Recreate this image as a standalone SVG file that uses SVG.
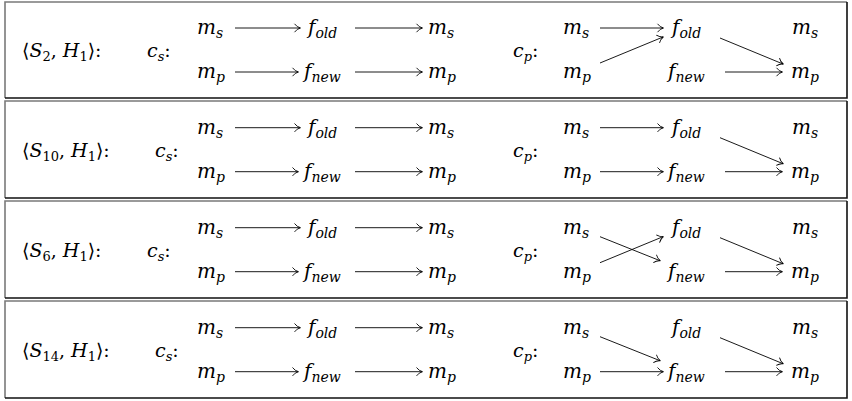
<svg xmlns="http://www.w3.org/2000/svg" width="852" height="401" viewBox="0 0 852 401">
<style>
text{font-family:"DejaVu Serif","Liberation Serif",serif;font-size:19px;fill:#000}
.n text{font-size:20px}
.i{font-style:italic}
.sub{font-size:13px}
.n .sub{font-size:14px}
.bl{stroke:#7a7a7a;stroke-width:1.6;fill:none}
.bd{stroke:#111;stroke-width:1.6;fill:none}
.c line{stroke:#000;stroke-width:0.9;marker-end:url(#ah)}
</style>
<defs>
<marker id="ah" markerWidth="10" markerHeight="10" refX="7" refY="5" orient="auto" markerUnits="userSpaceOnUse">
<path d="M1.5,0.8 Q4,4.2 7.5,5 Q4,5.8 1.5,9.2" fill="none" stroke="#000" stroke-width="0.9"/>
</marker>
</defs>
<g id="frames">
<path class="bl" d="M5,98 V2 H847"/><path class="bd" d="M5,98 H847 V2"/>
<path class="bl" d="M5,198 V101 H847"/><path class="bd" d="M5,198 H847 V101"/>
<path class="bl" d="M5,298 V201 H847"/><path class="bd" d="M5,298 H847 V201"/>
<path class="bl" d="M5,398 V301 H847"/><path class="bd" d="M5,398 H847 V301"/>
</g>
<g id="row1" transform="translate(0,0)">
<text x="22" y="57">⟨<tspan class="i">S</tspan><tspan class="sub" dy="4">2</tspan><tspan dy="-4">, </tspan><tspan class="i">H</tspan><tspan class="sub" dy="4">1</tspan><tspan dy="-4">⟩:</tspan></text>
<text x="147" y="57" class="i">c<tspan class="sub" dy="4">s</tspan><tspan dy="-4" font-style="normal">:</tspan></text>
<g id="r1-cs-ms1" class="n"><text x="197" y="34" class="i">m<tspan class="sub" dy="4">s</tspan></text></g>
<g id="r1-cs-mp1" class="n"><text x="197" y="78" class="i">m<tspan class="sub" dy="4">p</tspan></text></g>
<g id="r1-cs-fold" class="n"><text x="308" y="34" class="i">f<tspan class="sub" dy="4">old</tspan></text></g>
<g id="r1-cs-fnew" class="n"><text x="304" y="78" class="i">f<tspan class="sub" dy="4">new</tspan></text></g>
<g id="r1-cs-ms2" class="n"><text x="428" y="34" class="i">m<tspan class="sub" dy="4">s</tspan></text></g>
<g id="r1-cs-mp2" class="n"><text x="428" y="78" class="i">m<tspan class="sub" dy="4">p</tspan></text></g>
<text x="513" y="57" class="i">c<tspan class="sub" dy="4">p</tspan><tspan dy="-4" font-style="normal">:</tspan></text>
<g id="r1-cp-ms1" class="n"><text x="563" y="34" class="i">m<tspan class="sub" dy="4">s</tspan></text></g>
<g id="r1-cp-mp1" class="n"><text x="563" y="78" class="i">m<tspan class="sub" dy="4">p</tspan></text></g>
<g id="r1-cp-fold" class="n"><text x="672" y="34" class="i">f<tspan class="sub" dy="4">old</tspan></text></g>
<g id="r1-cp-fnew" class="n"><text x="668" y="78" class="i">f<tspan class="sub" dy="4">new</tspan></text></g>
<g id="r1-cp-ms2" class="n"><text x="792" y="34" class="i">m<tspan class="sub" dy="4">s</tspan></text></g>
<g id="r1-cp-mp2" class="n"><text x="791" y="78" class="i">m<tspan class="sub" dy="4">p</tspan></text></g>
<g class="c">
<line x1="235" y1="28" x2="300" y2="28"/><line x1="355" y1="28" x2="422" y2="28"/>
<line x1="235" y1="72" x2="298" y2="72"/><line x1="355" y1="72" x2="422" y2="72"/>
<line x1="600" y1="28" x2="663" y2="28"/><line x1="600" y1="63" x2="663" y2="37"/>
<line x1="720" y1="38" x2="783" y2="64"/><line x1="725" y1="72" x2="782" y2="72"/>
</g>
</g>
<g id="row2" transform="translate(0,99.7)">
<text x="22" y="57">⟨<tspan class="i">S</tspan><tspan class="sub" dy="4">10</tspan><tspan dy="-4">, </tspan><tspan class="i">H</tspan><tspan class="sub" dy="4">1</tspan><tspan dy="-4">⟩:</tspan></text>
<text x="155" y="57" class="i">c<tspan class="sub" dy="4">s</tspan><tspan dy="-4" font-style="normal">:</tspan></text>
<g id="r2-cs-ms1" class="n"><text x="197" y="34" class="i">m<tspan class="sub" dy="4">s</tspan></text></g>
<g id="r2-cs-mp1" class="n"><text x="197" y="78" class="i">m<tspan class="sub" dy="4">p</tspan></text></g>
<g id="r2-cs-fold" class="n"><text x="308" y="34" class="i">f<tspan class="sub" dy="4">old</tspan></text></g>
<g id="r2-cs-fnew" class="n"><text x="304" y="78" class="i">f<tspan class="sub" dy="4">new</tspan></text></g>
<g id="r2-cs-ms2" class="n"><text x="428" y="34" class="i">m<tspan class="sub" dy="4">s</tspan></text></g>
<g id="r2-cs-mp2" class="n"><text x="428" y="78" class="i">m<tspan class="sub" dy="4">p</tspan></text></g>
<text x="513" y="57" class="i">c<tspan class="sub" dy="4">p</tspan><tspan dy="-4" font-style="normal">:</tspan></text>
<g id="r2-cp-ms1" class="n"><text x="563" y="34" class="i">m<tspan class="sub" dy="4">s</tspan></text></g>
<g id="r2-cp-mp1" class="n"><text x="563" y="78" class="i">m<tspan class="sub" dy="4">p</tspan></text></g>
<g id="r2-cp-fold" class="n"><text x="672" y="34" class="i">f<tspan class="sub" dy="4">old</tspan></text></g>
<g id="r2-cp-fnew" class="n"><text x="668" y="78" class="i">f<tspan class="sub" dy="4">new</tspan></text></g>
<g id="r2-cp-ms2" class="n"><text x="792" y="34" class="i">m<tspan class="sub" dy="4">s</tspan></text></g>
<g id="r2-cp-mp2" class="n"><text x="791" y="78" class="i">m<tspan class="sub" dy="4">p</tspan></text></g>
<g class="c">
<line x1="235" y1="28" x2="300" y2="28"/><line x1="355" y1="28" x2="422" y2="28"/>
<line x1="235" y1="72" x2="298" y2="72"/><line x1="355" y1="72" x2="422" y2="72"/>
<line x1="600" y1="28" x2="663" y2="28"/><line x1="600" y1="72" x2="663" y2="72"/>
<line x1="720" y1="38" x2="783" y2="64"/><line x1="725" y1="72" x2="782" y2="72"/>
</g>
</g>
<g id="row3" transform="translate(0,199.7)">
<text x="22" y="57">⟨<tspan class="i">S</tspan><tspan class="sub" dy="4">6</tspan><tspan dy="-4">, </tspan><tspan class="i">H</tspan><tspan class="sub" dy="4">1</tspan><tspan dy="-4">⟩:</tspan></text>
<text x="147" y="57" class="i">c<tspan class="sub" dy="4">s</tspan><tspan dy="-4" font-style="normal">:</tspan></text>
<g id="r3-cs-ms1" class="n"><text x="197" y="34" class="i">m<tspan class="sub" dy="4">s</tspan></text></g>
<g id="r3-cs-mp1" class="n"><text x="197" y="78" class="i">m<tspan class="sub" dy="4">p</tspan></text></g>
<g id="r3-cs-fold" class="n"><text x="308" y="34" class="i">f<tspan class="sub" dy="4">old</tspan></text></g>
<g id="r3-cs-fnew" class="n"><text x="304" y="78" class="i">f<tspan class="sub" dy="4">new</tspan></text></g>
<g id="r3-cs-ms2" class="n"><text x="428" y="34" class="i">m<tspan class="sub" dy="4">s</tspan></text></g>
<g id="r3-cs-mp2" class="n"><text x="428" y="78" class="i">m<tspan class="sub" dy="4">p</tspan></text></g>
<text x="513" y="57" class="i">c<tspan class="sub" dy="4">p</tspan><tspan dy="-4" font-style="normal">:</tspan></text>
<g id="r3-cp-ms1" class="n"><text x="563" y="34" class="i">m<tspan class="sub" dy="4">s</tspan></text></g>
<g id="r3-cp-mp1" class="n"><text x="563" y="78" class="i">m<tspan class="sub" dy="4">p</tspan></text></g>
<g id="r3-cp-fold" class="n"><text x="672" y="34" class="i">f<tspan class="sub" dy="4">old</tspan></text></g>
<g id="r3-cp-fnew" class="n"><text x="668" y="78" class="i">f<tspan class="sub" dy="4">new</tspan></text></g>
<g id="r3-cp-ms2" class="n"><text x="792" y="34" class="i">m<tspan class="sub" dy="4">s</tspan></text></g>
<g id="r3-cp-mp2" class="n"><text x="791" y="78" class="i">m<tspan class="sub" dy="4">p</tspan></text></g>
<g class="c">
<line x1="235" y1="28" x2="300" y2="28"/><line x1="355" y1="28" x2="422" y2="28"/>
<line x1="235" y1="72" x2="298" y2="72"/><line x1="355" y1="72" x2="422" y2="72"/>
<line x1="600" y1="37" x2="660" y2="61"/><line x1="600" y1="63" x2="663" y2="37"/>
<line x1="720" y1="38" x2="783" y2="64"/><line x1="725" y1="72" x2="782" y2="72"/>
</g>
</g>
<g id="row4" transform="translate(0,299.7)">
<text x="22" y="57">⟨<tspan class="i">S</tspan><tspan class="sub" dy="4">14</tspan><tspan dy="-4">, </tspan><tspan class="i">H</tspan><tspan class="sub" dy="4">1</tspan><tspan dy="-4">⟩:</tspan></text>
<text x="155" y="57" class="i">c<tspan class="sub" dy="4">s</tspan><tspan dy="-4" font-style="normal">:</tspan></text>
<g id="r4-cs-ms1" class="n"><text x="197" y="34" class="i">m<tspan class="sub" dy="4">s</tspan></text></g>
<g id="r4-cs-mp1" class="n"><text x="197" y="78" class="i">m<tspan class="sub" dy="4">p</tspan></text></g>
<g id="r4-cs-fold" class="n"><text x="308" y="34" class="i">f<tspan class="sub" dy="4">old</tspan></text></g>
<g id="r4-cs-fnew" class="n"><text x="304" y="78" class="i">f<tspan class="sub" dy="4">new</tspan></text></g>
<g id="r4-cs-ms2" class="n"><text x="428" y="34" class="i">m<tspan class="sub" dy="4">s</tspan></text></g>
<g id="r4-cs-mp2" class="n"><text x="428" y="78" class="i">m<tspan class="sub" dy="4">p</tspan></text></g>
<text x="513" y="57" class="i">c<tspan class="sub" dy="4">p</tspan><tspan dy="-4" font-style="normal">:</tspan></text>
<g id="r4-cp-ms1" class="n"><text x="563" y="34" class="i">m<tspan class="sub" dy="4">s</tspan></text></g>
<g id="r4-cp-mp1" class="n"><text x="563" y="78" class="i">m<tspan class="sub" dy="4">p</tspan></text></g>
<g id="r4-cp-fold" class="n"><text x="672" y="34" class="i">f<tspan class="sub" dy="4">old</tspan></text></g>
<g id="r4-cp-fnew" class="n"><text x="668" y="78" class="i">f<tspan class="sub" dy="4">new</tspan></text></g>
<g id="r4-cp-ms2" class="n"><text x="792" y="34" class="i">m<tspan class="sub" dy="4">s</tspan></text></g>
<g id="r4-cp-mp2" class="n"><text x="791" y="78" class="i">m<tspan class="sub" dy="4">p</tspan></text></g>
<g class="c">
<line x1="235" y1="28" x2="300" y2="28"/><line x1="355" y1="28" x2="422" y2="28"/>
<line x1="235" y1="72" x2="298" y2="72"/><line x1="355" y1="72" x2="422" y2="72"/>
<line x1="600" y1="37" x2="660" y2="61"/><line x1="600" y1="72" x2="663" y2="72"/>
<line x1="720" y1="38" x2="783" y2="64"/><line x1="725" y1="72" x2="782" y2="72"/>
</g>
</g>
</svg>
